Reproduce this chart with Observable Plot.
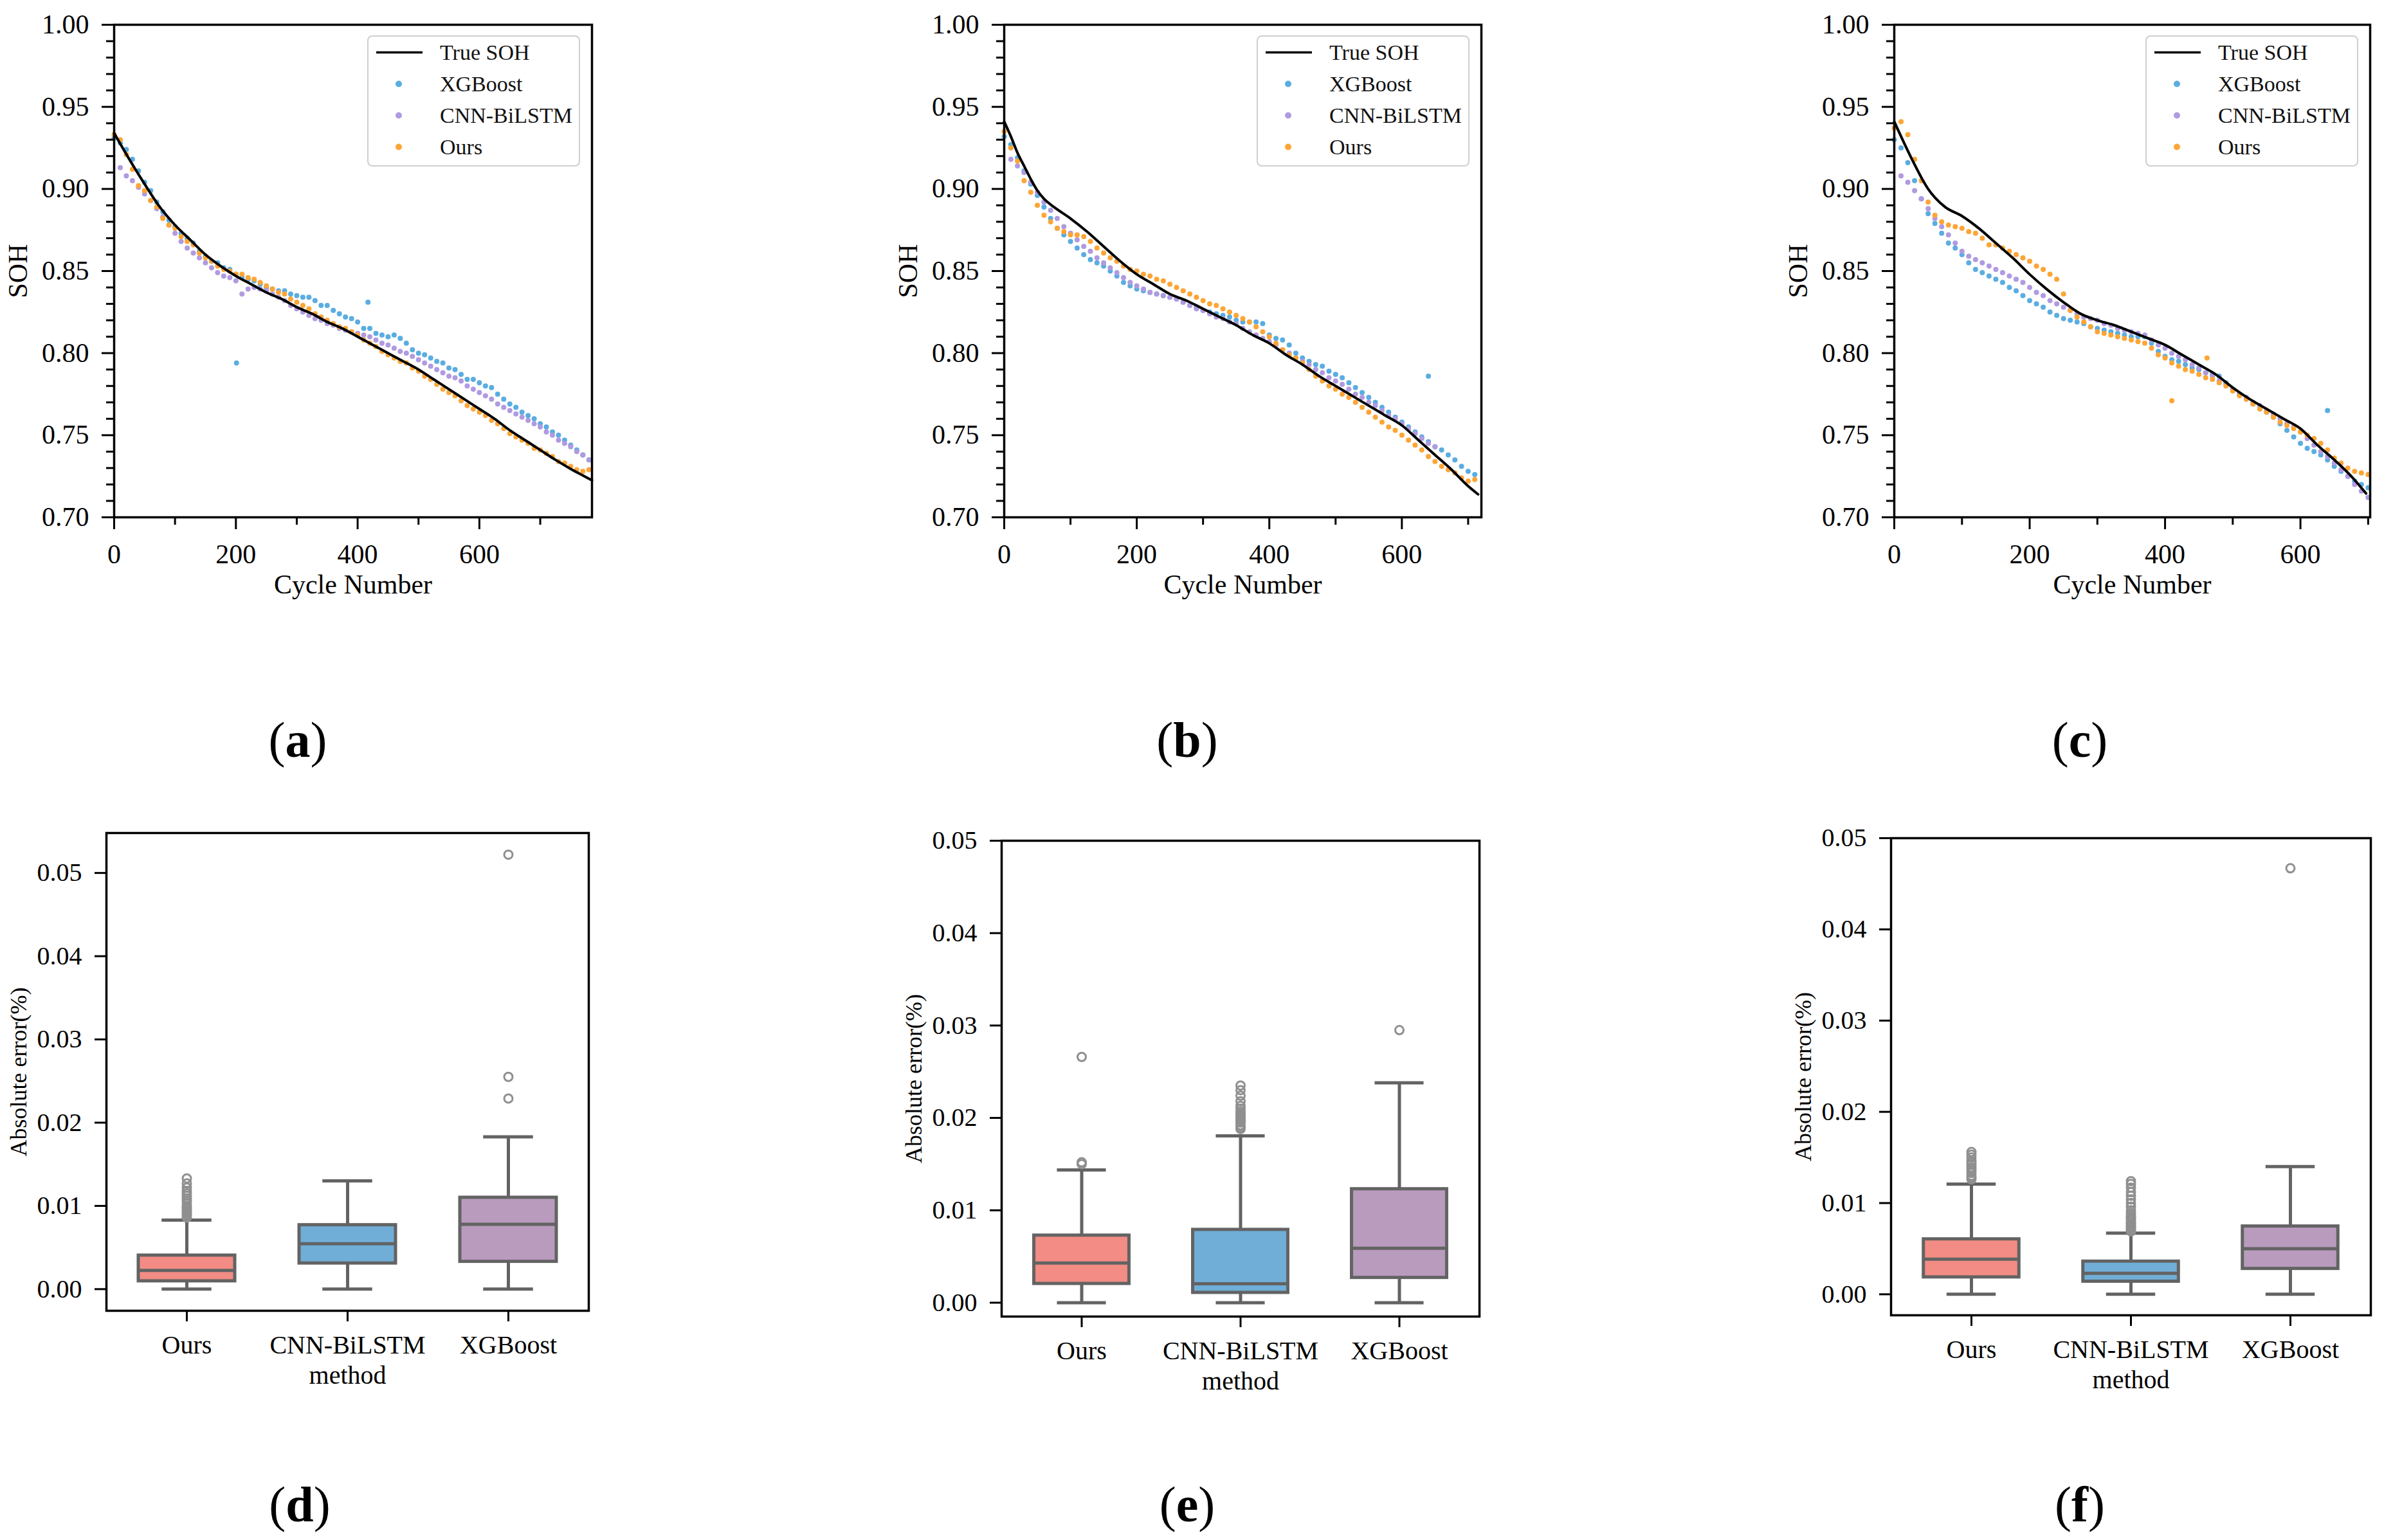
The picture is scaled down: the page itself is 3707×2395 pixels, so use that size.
<!DOCTYPE html>
<html>
<head>
<meta charset="utf-8">
<script src="https://cdn.jsdelivr.net/npm/d3@7"></script>
<script src="https://cdn.jsdelivr.net/npm/@observablehq/plot@0.6"></script>
<style>
  html, body { margin: 0; padding: 0; background: #fff; }
  #fig { position: relative; width: 3707px; height: 2395px; background: #fff; overflow: hidden; font-family: "Liberation Serif", "Times New Roman", serif; }
  .plabel { position: absolute; transform: translate(-50%, -50%); font-size: 78px; color: #000; white-space: nowrap; }
  .legend { position: absolute; box-sizing: border-box; border: 2.5px solid #cfcfcf; border-radius: 8px; background: rgba(255,255,255,0.85); font-size: 34px; color: #111; }
  .legend .row { position: absolute; left: 0; height: 49px; width: 100%; }
  .legend .row svg { position: absolute; left: 0; top: 0; }
  .legend .row span { position: absolute; left: 111px; top: 50%; transform: translateY(-50%); white-space: nowrap; line-height: 1; }
</style>
</head>
<body>
<div id="fig"></div>
<script>
// ---------------- DATA ----------------
const seriesNames = ["True SOH", "XGBoost", "CNN-BiLSTM", "Ours"];
const scatterStep = 10;

// Panel (a)
const trueCyclesA = [0,25,50,75,100,125,150,175,200,225,250,275,300,325,350,375,400,425,450,475,500,525,550,575,600,625,650,675,700,725,750,775,785];
const trueSohA = [0.934,0.918,0.903,0.889,0.878,0.869,0.860,0.853,0.847,0.842,0.837,0.833,0.828,0.824,0.819,0.815,0.810,0.805,0.800,0.795,0.790,0.784,0.778,0.772,0.766,0.760,0.753,0.747,0.741,0.735,0.7295,0.7245,0.7225];
const xgbStartA = 0;
const xgbA = [0.931,0.928,0.924,0.918,0.911,0.904,0.899,0.892,0.886,0.881,0.877,0.873,0.870,0.867,0.862,0.859,0.856,0.855,0.852,0.851,0.848,0.846,0.845,0.844,0.842,0.840,0.839,0.838,0.838,0.836,0.835,0.834,0.834,0.832,0.829,0.829,0.826,0.824,0.822,0.821,0.819,0.815,0.815,0.812,0.811,0.810,0.811,0.809,0.806,0.802,0.800,0.799,0.797,0.795,0.794,0.791,0.790,0.787,0.784,0.784,0.782,0.780,0.779,0.775,0.772,0.769,0.767,0.764,0.762,0.760,0.757,0.755,0.752,0.750,0.747,0.744,0.741,0.738,0.735];
const xgbOutCyclesA = [201, 417];
const xgbOutSohA = [0.794, 0.831];
const cnnStartA = 10;
const cnnA = [0.913,0.908,0.905,0.901,0.897,0.893,0.888,0.883,0.878,0.873,0.868,0.864,0.861,0.858,0.855,0.852,0.849,0.847,0.846,0.844,0.836,0.839,0.840,0.839,0.838,0.836,0.834,0.832,0.829,0.827,0.825,0.823,0.821,0.820,0.818,0.817,0.815,0.814,0.813,0.812,0.811,0.810,0.808,0.806,0.805,0.803,0.801,0.800,0.798,0.796,0.794,0.792,0.790,0.788,0.786,0.785,0.783,0.780,0.778,0.776,0.774,0.772,0.769,0.767,0.765,0.763,0.761,0.759,0.757,0.755,0.752,0.750,0.747,0.745,0.743,0.740,0.738,0.735];
const oursStartA = 0;
const oursA = [0.933,0.930,0.921,0.912,0.902,0.899,0.893,0.889,0.882,0.878,0.876,0.871,0.868,0.866,0.861,0.858,0.856,0.853,0.851,0.850,0.848,0.848,0.846,0.845,0.843,0.841,0.839,0.837,0.836,0.833,0.831,0.829,0.827,0.824,0.822,0.820,0.818,0.816,0.815,0.813,0.811,0.808,0.806,0.804,0.801,0.799,0.797,0.795,0.794,0.791,0.789,0.786,0.784,0.781,0.778,0.776,0.774,0.771,0.768,0.766,0.764,0.762,0.759,0.757,0.754,0.751,0.749,0.747,0.745,0.742,0.741,0.739,0.737,0.734,0.733,0.731,0.729,0.728,0.729];
const oursOutCyclesA = [];
const oursOutSohA = [];

// Panel (b)
const trueCyclesB = [0,10,20,30,40,50,60,75,100,125,150,175,200,225,250,275,300,325,350,375,400,425,450,475,500,525,550,575,600,625,650,675,700,715];
const trueSohB = [0.941,0.932,0.922,0.914,0.906,0.899,0.894,0.889,0.882,0.874,0.865,0.856,0.848,0.842,0.836,0.832,0.827,0.822,0.817,0.811,0.806,0.799,0.793,0.786,0.780,0.774,0.768,0.762,0.756,0.747,0.738,0.729,0.719,0.714];
const xgbStartB = 0;
const xgbB = [0.932,0.927,0.919,0.911,0.903,0.896,0.889,0.882,0.876,0.872,0.868,0.864,0.860,0.857,0.855,0.853,0.850,0.847,0.843,0.841,0.839,0.838,0.837,0.836,0.835,0.834,0.833,0.831,0.829,0.828,0.826,0.825,0.824,0.823,0.822,0.820,0.819,0.819,0.819,0.818,0.811,0.809,0.808,0.805,0.800,0.797,0.795,0.793,0.792,0.789,0.787,0.785,0.782,0.779,0.776,0.773,0.770,0.767,0.764,0.761,0.758,0.755,0.752,0.749,0.746,0.743,0.741,0.738,0.735,0.731,0.728,0.726];
const xgbOutCyclesB = [640];
const xgbOutSohB = [0.786];
const cnnStartB = 10;
const cnnB = [0.918,0.914,0.910,0.904,0.898,0.892,0.887,0.882,0.877,0.873,0.869,0.865,0.862,0.858,0.855,0.852,0.849,0.846,0.843,0.841,0.839,0.837,0.836,0.835,0.834,0.833,0.831,0.829,0.827,0.826,0.824,0.822,0.821,0.819,0.818,0.815,0.813,0.811,0.809,0.807,0.805,0.802,0.800,0.797,0.795,0.793,0.790,0.788,0.785,0.783,0.781,0.778,0.775,0.773,0.770,0.768,0.765,0.762,0.760,0.757,0.754,0.751,0.748,0.745,0.743];
const oursStartB = 0;
const oursB = [0.935,0.925,0.917,0.905,0.898,0.890,0.884,0.880,0.876,0.874,0.872,0.872,0.871,0.868,0.864,0.861,0.858,0.856,0.853,0.851,0.850,0.848,0.847,0.845,0.844,0.842,0.840,0.838,0.836,0.834,0.832,0.830,0.829,0.827,0.825,0.823,0.821,0.819,0.816,0.813,0.810,0.806,0.802,0.799,0.797,0.794,0.790,0.786,0.783,0.780,0.778,0.775,0.773,0.770,0.767,0.764,0.761,0.758,0.755,0.753,0.750,0.747,0.744,0.741,0.737,0.734,0.731,0.729,0.727,0.724,0.722,0.723];
const oursOutCyclesB = [];
const oursOutSohB = [];

// Panel (c)
const trueCyclesC = [0,25,50,75,100,125,150,175,200,225,250,275,300,325,350,375,400,425,450,475,500,525,550,575,600,625,650,675,697];
const trueSohC = [0.941,0.919,0.900,0.889,0.8835,0.876,0.867,0.858,0.848,0.839,0.831,0.824,0.820,0.817,0.813,0.809,0.805,0.799,0.793,0.787,0.779,0.772,0.766,0.760,0.754,0.744,0.735,0.725,0.7145];
const xgbStartC = 0;
const xgbC = [0.930,0.925,0.916,0.905,0.894,0.885,0.879,0.873,0.867,0.864,0.860,0.855,0.851,0.849,0.847,0.845,0.843,0.840,0.838,0.835,0.832,0.830,0.828,0.825,0.823,0.821,0.820,0.819,0.818,0.816,0.815,0.814,0.813,0.812,0.811,0.810,0.810,0.810,0.806,0.801,0.798,0.796,0.795,0.793,0.791,0.790,0.788,0.787,0.786,0.782,0.778,0.775,0.772,0.769,0.766,0.764,0.761,0.757,0.753,0.749,0.745,0.742,0.740,0.738,0.735,0.731,0.728,0.725,0.722,0.720,0.718];
const xgbOutCyclesC = [640];
const xgbOutSohC = [0.765];
const cnnStartC = 10;
const cnnC = [0.908,0.904,0.899,0.894,0.888,0.882,0.877,0.872,0.867,0.862,0.859,0.857,0.855,0.853,0.851,0.849,0.847,0.845,0.843,0.840,0.837,0.835,0.832,0.830,0.828,0.826,0.824,0.822,0.821,0.820,0.818,0.817,0.815,0.814,0.813,0.812,0.811,0.808,0.805,0.803,0.800,0.798,0.796,0.793,0.791,0.788,0.786,0.783,0.781,0.778,0.775,0.773,0.770,0.768,0.765,0.763,0.760,0.757,0.755,0.752,0.748,0.744,0.740,0.737,0.733,0.729,0.725,0.720,0.716,0.712];
const oursStartC = 0;
const oursC = [0.937,0.941,0.933,0.918,0.905,0.892,0.884,0.880,0.878,0.877,0.876,0.874,0.873,0.870,0.866,0.866,0.864,0.862,0.860,0.858,0.856,0.853,0.851,0.848,0.845,0.836,0.826,0.822,0.819,0.816,0.813,0.812,0.811,0.810,0.809,0.808,0.807,0.806,0.803,0.799,0.797,0.794,0.792,0.790,0.789,0.787,0.785,0.784,0.782,0.780,0.777,0.774,0.772,0.769,0.766,0.764,0.761,0.758,0.756,0.754,0.752,0.750,0.748,0.745,0.741,0.736,0.733,0.730,0.728,0.727,0.726];
const oursOutCyclesC = [410, 462];
const oursOutSohC = [0.771, 0.797];

// Box plots: absolute error per method
const methods = ["Ours", "CNN-BiLSTM", "XGBoost"];
// (d)
const dLo  = [0, 0, 0];
const dQ1  = [0.00096, 0.0031, 0.0033];
const dMed = [0.00225, 0.00545, 0.0078];
const dQ3  = [0.00405, 0.0077, 0.0110];
const dHi  = [0.0083, 0.0130, 0.0183];
const dOutOurs = [0.0086,0.0088,0.0090,0.0092,0.0094,0.0096,0.0098,0.0100,0.0103,0.0106,0.0109,0.0112,0.0115,0.0118,0.0122,0.0127,0.0133];
const dOutCnn = [];
const dOutXgb = [0.0229, 0.0255, 0.0522];
// (e)
const eLo  = [0, 0, 0];
const eQ1  = [0.00205, 0.00108, 0.0027];
const eMed = [0.0043, 0.00205, 0.0059];
const eQ3  = [0.00728, 0.0079, 0.0123];
const eHi  = [0.01436, 0.01805, 0.0238];
const eOutOurs = [0.0150, 0.0152, 0.0266];
const eOutCnn = [0.0188,0.0190,0.0192,0.0195,0.0197,0.0199,0.0201,0.0203,0.0205,0.0207,0.0210,0.0213,0.0218,0.0224,0.0230,0.0235];
const eOutXgb = [0.0295];
// (f)
const fLo  = [0, 0, 0];
const fQ1  = [0.00187, 0.0014, 0.0028];
const fMed = [0.00385, 0.0023, 0.0050];
const fQ3  = [0.00604, 0.0036, 0.00745];
const fHi  = [0.01208, 0.0067, 0.0140];
const fOutOurs = [0.0126,0.0128,0.0130,0.0133,0.0135,0.0137,0.0139,0.0142,0.0144,0.0146,0.0150,0.0153,0.0156];
const fOutCnn = [0.0069,0.0071,0.0072,0.0074,0.0075,0.0077,0.0078,0.0080,0.0082,0.0084,0.0086,0.0089,0.0092,0.0096,0.0100,0.0104,0.0108,0.0112,0.0117,0.0121,0.0124];
const fOutXgb = [0.0467];

// Ticks
const sohTicks = [0.70, 0.75, 0.80, 0.85, 0.90, 0.95, 1.00];
const cycleTicks = [0, 200, 400, 600];
const cycleMinorTicks = [100, 300, 500, 700];
const errTicks = [0.00, 0.01, 0.02, 0.03, 0.04, 0.05];

// ---------------- STYLE ----------------
const FONT = '"Liberation Serif", "Times New Roman", serif';
const COLORS = { xgb: "#5aade0", cnn: "#b09ae0", ours: "#fda535", line: "#000" };
const BOX_COLORS = ["#f28c84", "#70aed8", "#b89bbd"];
const BOX_EDGE = "#636363";
const fig = document.getElementById("fig");
const ML = 220, MT = 40, MR = 40, MB = 170;

function place(node, left, top) {
  node.style.position = "absolute";
  node.style.left = left + "px";
  node.style.top = top + "px";
  fig.appendChild(node);
}

function toPoints(start, arr) { return arr.map((v, i) => ({cycle: start + i * scatterStep, soh: v})); }
function zipPoints(cs, vs) { return cs.map((c, i) => ({cycle: c, soh: vs[i]})); }

function sohPanel(p) {
  const [l, t, r, b] = p.frame;
  const fw = r - l, fh = b - t;
  const minorY = d3.range(70, 101).map(d => d / 100).filter(v => !sohTicks.some(m => Math.abs(m - v) < 1e-9));
  const R = 4;
  const chart = Plot.plot({
    width: fw + ML + MR, height: fh + MT + MB,
    marginLeft: ML, marginTop: MT, marginRight: MR, marginBottom: MB,
    style: {fontFamily: FONT, fontSize: "42px", background: "transparent", overflow: "visible", color: "#000"},
    x: {domain: [0, p.xmax]},
    y: {domain: [0.70, 1.00]},
    marks: [
      Plot.dot(toPoints(p.xgbStart, p.xgb).concat(zipPoints(p.xgbOutC, p.xgbOutV)), {x: "cycle", y: "soh", r: R, fill: COLORS.xgb, stroke: "none"}),
      Plot.dot(toPoints(p.cnnStart, p.cnn), {x: "cycle", y: "soh", r: R, fill: COLORS.cnn, stroke: "none"}),
      Plot.dot(toPoints(p.oursStart, p.ours).concat(zipPoints(p.oursOutC, p.oursOutV)), {x: "cycle", y: "soh", r: R, fill: COLORS.ours, stroke: "none"}),
      Plot.line(zipPoints(p.trueC, p.trueV), {x: "cycle", y: "soh", stroke: COLORS.line, strokeWidth: 4, curve: "monotone-x"}),
      Plot.frame({stroke: "#000", strokeWidth: 3.5}),
      Plot.axisY({ticks: minorY, tickSize: 12, tickFormat: () => "", strokeWidth: 3, label: null}),
      Plot.axisY({ticks: sohTicks, tickSize: 19, tickPadding: 20, tickFormat: d3.format(".2f"), strokeWidth: 3, fontSize: 42, label: null}),
      Plot.axisX({ticks: cycleMinorTicks.filter(v => v <= p.xmax), tickSize: 12, tickFormat: () => "", strokeWidth: 3, label: null}),
      Plot.axisX({ticks: cycleTicks, tickSize: 19, tickPadding: 23, tickFormat: d => String(d), strokeWidth: 3, fontSize: 42, label: null}),
      Plot.text(["Cycle Number"], {text: d => d, frameAnchor: "bottom", textAnchor: "middle", dy: 118, fontSize: 42}),
      Plot.text(["SOH"], {text: d => d, frameAnchor: "left", textAnchor: "middle", dx: -149, rotate: -90, fontSize: 42})
    ]
  });
  place(chart, l - ML, t - MT);

  // legend
  const lw = 331, lh = 204;
  const leg = document.createElement("div");
  leg.className = "legend";
  leg.style.width = lw + "px";
  leg.style.height = lh + "px";
  const rows = [
    {name: seriesNames[0], kind: "line", color: COLORS.line},
    {name: seriesNames[1], kind: "dot", color: COLORS.xgb},
    {name: seriesNames[2], kind: "dot", color: COLORS.cnn},
    {name: seriesNames[3], kind: "dot", color: COLORS.ours}
  ];
  rows.forEach((row, i) => {
    const div = document.createElement("div");
    div.className = "row";
    div.style.top = (0 + i * 49) + "px";
    const sw = row.kind === "line"
      ? `<svg width="100" height="49"><line x1="12" x2="84" y1="24.5" y2="24.5" stroke="${row.color}" stroke-width="3.5"/></svg>`
      : `<svg width="100" height="49"><circle cx="47" cy="24.5" r="5" fill="${row.color}"/></svg>`;
    div.innerHTML = sw + `<span>${row.name}</span>`;
    leg.appendChild(div);
  });
  leg.style.left = (r - 18 - lw) + "px";
  leg.style.top = (t + 17) + "px";
  fig.appendChild(leg);
}

function boxPanel(p) {
  const [l, t, r, b] = p.frame;
  const fw = r - l, fh = b - t;
  const step = fw / methods.length;
  const boxInset = step * 0.2;
  const capInset = step * 0.345;
  const rows = methods.map((m, i) => ({method: m, lo: p.lo[i], q1: p.q1[i], med: p.med[i], q3: p.q3[i], hi: p.hi[i]}));
  const outs = [];
  p.outs.forEach((arr, i) => arr.forEach(v => outs.push({method: methods[i], v})));
  const SW = 5;
  const chart = Plot.plot({
    width: fw + ML + MR, height: fh + MT + MB,
    marginLeft: ML, marginTop: MT, marginRight: MR, marginBottom: MB,
    style: {fontFamily: FONT, fontSize: "40px", background: "transparent", overflow: "visible", color: "#000"},
    x: {type: "band", domain: methods, padding: 0},
    y: {domain: p.ydomain},
    color: {domain: methods, range: BOX_COLORS},
    marks: [
      Plot.ruleX(rows, {x: "method", y1: "lo", y2: "q1", stroke: BOX_EDGE, strokeWidth: SW}),
      Plot.ruleX(rows, {x: "method", y1: "q3", y2: "hi", stroke: BOX_EDGE, strokeWidth: SW}),
      Plot.tickY(rows, {x: "method", y: "lo", insetLeft: capInset, insetRight: capInset, stroke: BOX_EDGE, strokeWidth: SW}),
      Plot.tickY(rows, {x: "method", y: "hi", insetLeft: capInset, insetRight: capInset, stroke: BOX_EDGE, strokeWidth: SW}),
      Plot.barY(rows, {x: "method", y1: "q1", y2: "q3", fill: "method", insetLeft: boxInset, insetRight: boxInset, stroke: BOX_EDGE, strokeWidth: SW}),
      Plot.tickY(rows, {x: "method", y: "med", insetLeft: boxInset, insetRight: boxInset, stroke: BOX_EDGE, strokeWidth: SW}),
      Plot.dot(outs, {x: "method", y: "v", r: 6.5, stroke: "#8f8f8f", strokeWidth: 3, fill: "none"}),
      Plot.frame({stroke: "#000", strokeWidth: 3.5}),
      Plot.axisY({ticks: errTicks, tickSize: 18, tickPadding: 20, tickFormat: d3.format(".2f"), strokeWidth: 3, fontSize: 40, label: null}),
      Plot.axisX({tickSize: 17, tickPadding: 21, strokeWidth: 3, fontSize: 40, label: null}),
      Plot.text(["method"], {text: d => d, frameAnchor: "bottom", textAnchor: "middle", dy: 113, fontSize: 40}),
      Plot.text(["Absolute error(%)"], {text: d => d, frameAnchor: "left", textAnchor: "middle", dx: -136, rotate: -90, fontSize: 36})
    ]
  });
  place(chart, l - ML, t - MT);
}

function panelLabel(letter, cx, cy) {
  const d = document.createElement("div");
  d.className = "plabel";
  d.innerHTML = `(<b>${letter}</b>)`;
  d.style.left = cx + "px";
  d.style.top = cy + "px";
  fig.appendChild(d);
}

sohPanel({frame: [177, 38, 920, 804], xmax: 785, trueC: trueCyclesA, trueV: trueSohA,
  xgbStart: xgbStartA, xgb: xgbA, xgbOutC: xgbOutCyclesA, xgbOutV: xgbOutSohA,
  cnnStart: cnnStartA, cnn: cnnA, oursStart: oursStartA, ours: oursA, oursOutC: oursOutCyclesA, oursOutV: oursOutSohA});
sohPanel({frame: [1561, 38, 2303, 804], xmax: 720, trueC: trueCyclesB, trueV: trueSohB,
  xgbStart: xgbStartB, xgb: xgbB, xgbOutC: xgbOutCyclesB, xgbOutV: xgbOutSohB,
  cnnStart: cnnStartB, cnn: cnnB, oursStart: oursStartB, ours: oursB, oursOutC: oursOutCyclesB, oursOutV: oursOutSohB});
sohPanel({frame: [2945, 38, 3685, 804], xmax: 703, trueC: trueCyclesC, trueV: trueSohC,
  xgbStart: xgbStartC, xgb: xgbC, xgbOutC: xgbOutCyclesC, xgbOutV: xgbOutSohC,
  cnnStart: cnnStartC, cnn: cnnC, oursStart: oursStartC, ours: oursC, oursOutC: oursOutCyclesC, oursOutV: oursOutSohC});

boxPanel({frame: [165, 1295, 915, 2038], ydomain: [-0.0026, 0.0548], lo: dLo, q1: dQ1, med: dMed, q3: dQ3, hi: dHi, outs: [dOutOurs, dOutCnn, dOutXgb]});
boxPanel({frame: [1557, 1307, 2300, 2047], ydomain: [-0.0015, 0.05], lo: eLo, q1: eQ1, med: eMed, q3: eQ3, hi: eHi, outs: [eOutOurs, eOutCnn, eOutXgb]});
boxPanel({frame: [2940, 1303, 3686, 2045], ydomain: [-0.0023, 0.05], lo: fLo, q1: fQ1, med: fMed, q3: fQ3, hi: fHi, outs: [fOutOurs, fOutCnn, fOutXgb]});

panelLabel("a", 463, 1151);
panelLabel("b", 1846, 1151);
panelLabel("c", 3234, 1151);
panelLabel("d", 466, 2340);
panelLabel("e", 1846, 2340);
panelLabel("f", 3234, 2340);
</script>
</body>
</html>
